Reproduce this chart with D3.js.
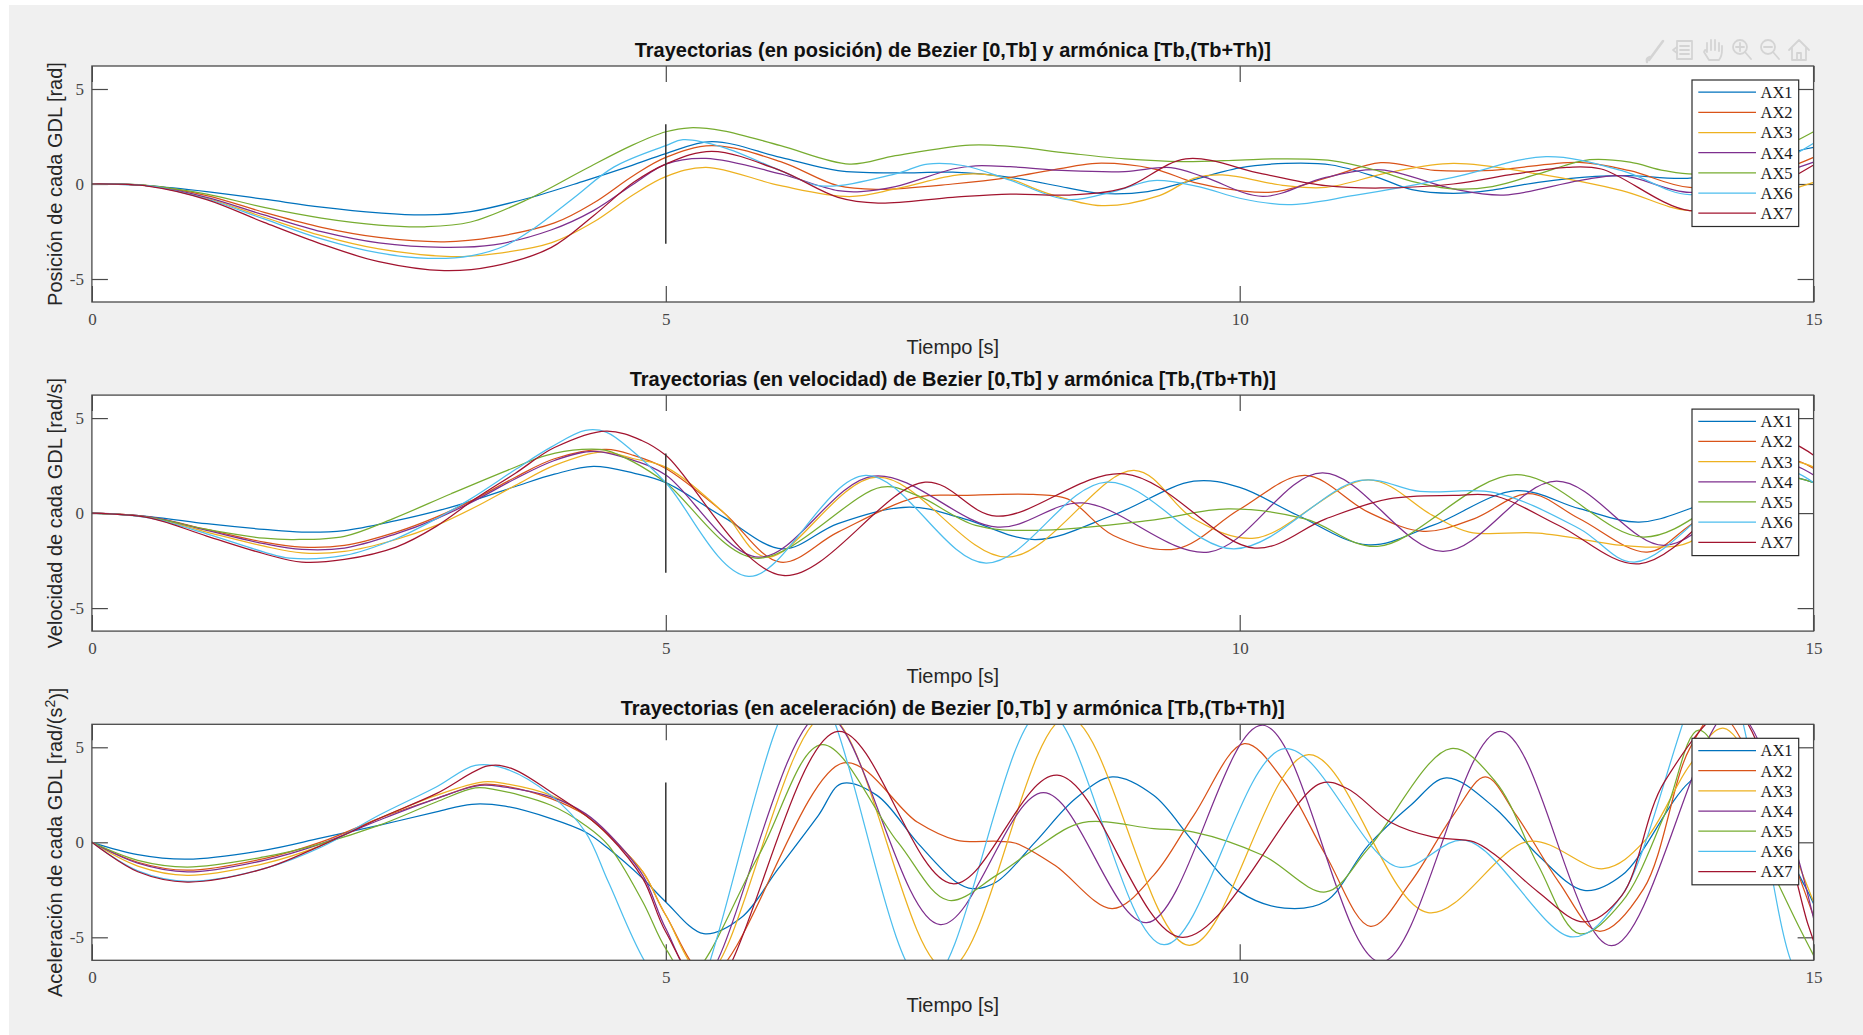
<!DOCTYPE html>
<html>
<head>
<meta charset="utf-8">
<script src="https://cdn.jsdelivr.net/npm/d3@7"></script>
<style>
  html, body { margin: 0; padding: 0; background: #ffffff; }
  svg { display: block; }
</style>
</head>
<body>
<svg id="fig" width="1863" height="1035"></svg>
<script>
// ---------- series / axes definitions ----------
const seriesNames  = ["AX1", "AX2", "AX3", "AX4", "AX5", "AX6", "AX7"];
const seriesColors = ["#0072BD", "#D95319", "#EDB120", "#7E2F8E", "#77AC30", "#4DBEEE", "#A2142F"];
const xTicks = [0, 5, 10, 15];
const yTicks = [-5, 0, 5];
const xDomain = [0, 15];
const yDomain = [-6.21, 6.21];
const panelTitles = [
  "Trayectorias (en posición) de Bezier [0,Tb] y armónica [Tb,(Tb+Th)]",
  "Trayectorias (en velocidad) de Bezier [0,Tb] y armónica [Tb,(Tb+Th)]",
  "Trayectorias (en aceleración) de Bezier [0,Tb] y armónica [Tb,(Tb+Th)]"
];
const xLabel = "Tiempo [s]";
const yLabels = [
  ["Posición de cada GDL [rad]"],
  ["Velocidad de cada GDL [rad/s]"],
  ["Aceleración de cada GDL [rad/(s", "2", ")]"]
];
// boundary between the Bezier part and the harmonic part: t = Tb, drawn from -pi to pi
const tbMarker = [[5, -Math.PI], [5, Math.PI]];

// ---------- joint positions [t, rad] ----------
const posAX1 = [[0,0],[0.5,-0.1],[1,-0.4],[1.5,-0.8],[2,-1.22],[2.5,-1.52],[2.9,-1.63],[3.3,-1.45],[3.8,-0.75],[4.3,0.18],[4.7,0.97],[5,1.6],[5.4,2.23],[6,1.4],[6.5,0.7],[7,0.58],[7.5,0.62],[8,0.35],[8.5,-0.2],[8.8,-0.5],[9.2,-0.4],[9.5,0.05],[10,0.85],[10.4,1.08],[10.8,1.0],[11.2,0.35],[11.5,-0.3],[11.86,-0.49],[12.2,-0.32],[12.6,0.09],[13.1,0.4],[13.4,0.44],[13.9,0.3],[14.5,0.9],[14.87,1.75],[15,1.93]];
const posAX2 = [[0,0],[0.5,-0.1],[1,-0.61],[1.5,-1.49],[2,-2.28],[2.5,-2.81],[3.07,-3.04],[3.5,-2.8],[4.03,-2.05],[4.37,-1.0],[4.72,0.45],[5,1.4],[5.4,2.02],[6,1.18],[6.5,-0.09],[6.85,-0.28],[7.5,0.0],[8,0.35],[8.5,0.88],[8.75,1.09],[9.25,0.8],[9.6,0.09],[10,-0.35],[10.3,-0.42],[10.8,0.4],[11.23,1.12],[11.7,0.72],[12.2,0.72],[12.96,1.14],[13.4,0.7],[13.92,-0.18],[14.5,0.3],[15,1.4]];
const posAX3 = [[0,0],[0.5,-0.1],[1,-0.75],[1.5,-1.75],[2,-2.72],[2.5,-3.42],[3.13,-3.82],[3.5,-3.68],[4,-3.1],[4.37,-2.0],[4.72,-0.55],[5,0.39],[5.35,0.88],[6,-0.09],[6.6,-0.66],[7,-0.26],[7.5,0.44],[7.7,0.53],[8,0.26],[8.3,-0.44],[8.8,-1.14],[9.3,-0.61],[9.6,0.3],[9.85,0.48],[10.4,-0.09],[10.75,-0.18],[11.3,0.6],[11.86,1.09],[12.6,0.53],[13.33,-0.35],[13.92,-1.4],[14.5,-0.8],[15,0.09]];
const posAX4 = [[0,0],[0.5,-0.1],[1,-0.7],[1.5,-1.63],[2,-2.51],[2.5,-3.1],[3.07,-3.33],[3.5,-3.2],[4,-2.42],[4.37,-1.4],[4.72,0],[5,1.05],[5.35,1.35],[6,0.53],[6.5,-0.35],[6.7,-0.4],[7,-0.14],[7.5,0.79],[7.7,0.96],[8,0.91],[8.5,0.7],[9,0.65],[9.4,0.86],[9.7,0.35],[10.2,-0.65],[10.75,0.35],[11.23,0.74],[11.86,-0.26],[12.3,-0.58],[12.96,0.18],[13.33,0.44],[13.92,-0.44],[14.5,0.2],[15,1.15]];
const posAX5 = [[0,0],[0.5,-0.08],[1,-0.53],[1.5,-1.23],[2,-1.79],[2.5,-2.16],[2.9,-2.25],[3.3,-2.0],[3.8,-0.8],[4.3,0.79],[4.7,2.02],[5,2.75],[5.21,2.96],[5.5,2.8],[6,2.02],[6.6,1.05],[7,1.49],[7.65,2.05],[8,1.98],[8.5,1.63],[9,1.32],[9.5,1.18],[10,1.26],[10.31,1.32],[10.8,1.23],[11.2,0.7],[11.5,0.14],[11.86,-0.26],[12.2,-0.14],[12.6,0.53],[13.05,1.28],[13.4,1.15],[13.7,0.7],[14.0,0.53],[14.5,1.3],[15,2.75]];
const posAX6 = [[0,0],[0.5,-0.1],[1,-0.79],[1.5,-1.84],[2,-2.89],[2.5,-3.63],[2.93,-3.91],[3.3,-3.78],[3.6,-3.25],[3.86,-2.3],[4.2,-0.72],[4.55,0.9],[5,2.02],[5.15,2.33],[5.5,1.93],[6,0.7],[6.35,-0.1],[7,0.53],[7.28,1.05],[7.6,0.96],[8,0.2],[8.5,-0.82],[8.9,-0.4],[9.25,0.18],[9.65,-0.15],[10,-0.75],[10.42,-1.09],[11,-0.6],[11.86,0.35],[12.67,1.44],[13.33,0.7],[13.92,-0.56],[14.5,0.5],[15,2.14]];
const posAX7 = [[0,0],[0.5,-0.12],[1,-0.82],[1.5,-2.02],[2,-3.16],[2.5,-4.09],[3.07,-4.56],[3.5,-4.32],[4,-3.35],[4.37,-1.67],[4.72,0.09],[5,1.05],[5.4,1.72],[6,0.7],[6.5,-0.7],[6.85,-1.0],[7.5,-0.7],[8,-0.53],[8.5,-0.58],[9,-0.2],[9.53,1.32],[10.2,0.53],[10.75,-0.09],[11.23,-0.21],[11.86,0.0],[12.4,0.53],[12.85,0.88],[13.15,0.79],[13.92,-1.4],[14.5,-0.6],[15,1.0]];

// ---------- joint velocities [t, rad/s] ----------
const velAX1 = [[0,0],[0.5,-0.18],[1,-0.56],[1.5,-0.86],[1.83,-1.0],[2.2,-0.92],[2.65,-0.4],[3.0,0.1],[3.34,0.7],[3.69,1.4],[4.03,2.05],[4.37,2.46],[4.72,2.1],[5,1.6],[5.5,-0.2],[6.02,-1.88],[6.5,-0.55],[7.12,0.32],[7.6,-0.3],[8.22,-1.39],[8.9,-0.1],[9.6,1.68],[10,1.35],[10.5,-0.1],[11.12,-1.67],[11.68,-0.65],[12.41,1.18],[12.96,0.23],[13.48,-0.47],[13.92,0.23],[14.5,1.8],[14.8,1.9],[15,1.6]];
const velAX2 = [[0,0],[0.5,-0.2],[1,-0.86],[1.5,-1.53],[1.83,-1.79],[2.2,-1.7],[2.65,-1.0],[3.0,-0.21],[3.34,0.75],[3.69,1.89],[4.03,2.86],[4.48,3.35],[4.72,3.04],[5,2.35],[5.5,0.05],[6.0,-2.58],[6.5,-1.0],[7.19,0.84],[7.6,0.93],[8.2,0.98],[8.5,0.75],[8.9,-1.18],[9.45,-1.88],[10,0.2],[10.57,1.98],[11.12,0.05],[11.6,-0.96],[12.04,-0.3],[12.52,1.02],[12.96,-0.3],[13.55,-2.05],[13.92,-0.65],[14.5,2.0],[14.8,2.8],[15,2.35]];
const velAX3 = [[0,0],[0.5,-0.22],[1,-1.0],[1.5,-1.74],[1.83,-2.09],[2.2,-2.02],[2.65,-1.39],[3.0,-0.65],[3.34,0.32],[3.69,1.46],[4.03,2.51],[4.44,3.21],[4.72,2.86],[5,2.42],[5.5,0.05],[5.88,-2.32],[6.84,1.89],[7.98,-2.32],[9.08,2.25],[9.6,-0.3],[10.13,-1.32],[11.12,1.75],[11.68,-0.12],[12.0,-1.0],[12.6,-1.05],[13.33,-1.7],[13.63,-1.79],[13.92,-1.53],[14.5,1.5],[14.8,2.7],[15,2.42]];
const velAX4 = [[0,0],[0.5,-0.2],[1,-0.91],[1.5,-1.61],[1.83,-1.91],[2.2,-1.84],[2.65,-1.09],[3.0,-0.3],[3.34,0.67],[3.69,1.81],[4.03,2.77],[4.37,3.25],[4.72,2.77],[5,2.0],[5.81,-2.32],[6.81,1.95],[7.89,-0.74],[8.63,0.54],[9.73,-2.05],[10.72,2.12],[11.77,-2.02],[12.76,1.68],[13.7,-1.7],[14.4,1.2],[14.75,2.6],[15,2.0]];
const velAX5 = [[0,0],[0.5,-0.22],[1,-0.86],[1.5,-1.32],[1.76,-1.39],[2.2,-1.22],[2.62,-0.3],[3.13,1.02],[3.62,2.25],[3.96,3.04],[4.27,3.35],[4.48,3.3],[4.72,2.68],[5,1.6],[5.78,-2.37],[6.88,1.37],[7.19,0.93],[7.7,-0.65],[8.22,-0.91],[9.2,-0.4],[9.9,0.22],[10.57,-0.3],[11.2,-1.75],[12.41,2.02],[13.52,-1.26],[14.3,1.0],[14.75,1.9],[15,1.6]];
const velAX6 = [[0,0],[0.5,-0.25],[1,-1.09],[1.5,-2.05],[1.72,-2.37],[2.2,-2.23],[2.65,-1.35],[3.0,-0.3],[3.3,0.75],[3.7,2.33],[4.0,3.47],[4.3,4.35],[4.48,4.26],[4.72,3.21],[5,1.6],[5.72,-3.33],[6.74,1.98],[7.79,-2.63],[8.84,1.63],[9.95,-1.88],[11.05,1.72],[11.57,1.14],[12.23,1.07],[12.96,-0.82],[13.44,-2.58],[14.3,1.2],[14.75,2.3],[15,1.6]];
const velAX7 = [[0,0],[0.5,-0.25],[1,-1.21],[1.5,-2.14],[1.83,-2.58],[2.2,-2.44],[2.65,-1.79],[3.0,-0.7],[3.34,0.75],[3.69,2.1],[4.03,3.45],[4.48,4.32],[4.79,3.82],[5,3.04],[6.02,-3.28],[7.26,1.63],[7.88,-0.16],[9.0,2.07],[10.13,-1.84],[10.75,-0.3],[11.3,0.75],[11.86,0.93],[12.23,0.9],[12.78,-0.65],[13.48,-2.67],[14.2,0.5],[14.7,3.8],[15,3.04]];

// ---------- joint accelerations [t, rad/s^2] ----------
const accAX1 = [[0,0],[0.4,-0.65],[0.83,-0.89],[1.5,-0.42],[2.0,0.23],[2.5,0.89],[3.0,1.6],[3.31,2.0],[3.6,1.9],[4.0,1.25],[4.3,0.54],[4.5,-0.33],[4.8,-1.91],[5.0,-3.14],[5.33,-4.81],[5.65,-4.0],[5.98,-1.39],[6.33,1.42],[6.53,3.09],[6.84,2.47],[7.19,0.0],[7.53,-2.09],[7.67,-2.44],[7.88,-2.09],[8.22,0.02],[8.57,2.3],[8.89,3.44],[9.25,2.47],[9.6,0.0],[10.0,-2.61],[10.39,-3.46],[10.75,-3.1],[11.12,-0.16],[11.49,1.95],[11.8,3.39],[12.23,1.77],[12.6,-0.68],[13.0,-2.53],[13.33,-1.74],[13.92,3.18],[14.25,4.2],[14.92,-2.26],[15,-3.23]];
const accAX2 = [[0,0],[0.4,-1.05],[0.83,-1.47],[1.5,-0.86],[2.0,0.02],[2.5,1.25],[3.0,2.3],[3.38,3.04],[3.6,2.96],[4.0,2.3],[4.3,1.42],[4.5,0.37],[4.8,-1.56],[5.0,-3.84],[5.38,-7.0],[6.55,4.18],[7.19,1.07],[7.53,0.12],[7.9,0.05],[8.05,-0.05],[8.39,-1.21],[8.89,-3.49],[9.25,-1.74],[9.6,1.42],[10.04,5.19],[10.39,3.18],[10.75,-0.68],[11.14,-4.42],[11.49,-2.09],[11.86,1.42],[12.14,3.44],[12.41,1.42],[12.78,-2.09],[13.13,-4.68],[13.52,-2.44],[13.92,4.93],[14.18,6.8],[15,-3.9]];
const accAX3 = [[0,0],[0.4,-1.25],[0.83,-1.74],[1.5,-1.12],[2.0,-0.16],[2.5,1.25],[3.0,2.47],[3.41,3.18],[3.6,3.09],[4.0,2.47],[4.3,1.42],[4.5,0.37],[4.8,-1.56],[5.0,-3.84],[5.35,-7.0],[6.4,6.7],[7.45,-6.7],[8.5,6.6],[9.56,-5.42],[10.6,4.61],[11.64,-3.7],[12.52,0.05],[13.17,-1.39],[13.52,0.02],[13.92,4.05],[14.22,6.0],[15,-3.14]];
const accAX4 = [[0,0],[0.4,-1.1],[0.83,-1.56],[1.5,-0.95],[2.0,-0.07],[2.5,1.16],[3.0,2.3],[3.38,3.0],[3.6,2.9],[4.0,2.39],[4.3,1.51],[4.5,0.46],[4.8,-1.74],[5.0,-4.54],[5.3,-7.4],[6.37,6.8],[7.39,-4.33],[8.29,2.61],[9.19,-4.23],[10.2,6.16],[11.23,-6.3],[12.27,5.84],[13.24,-5.44],[14.3,7.0],[15,-4.0]];
const accAX5 = [[0,0],[0.4,-0.95],[0.83,-1.3],[1.5,-0.77],[2.0,-0.07],[2.5,0.89],[3.0,2.12],[3.34,2.86],[3.5,2.79],[4.0,1.95],[4.3,0.89],[4.5,-0.16],[4.8,-3.14],[5.0,-5.6],[5.2,-7.0],[5.81,-0.68],[6.36,5.14],[7.02,0.02],[7.46,-3.05],[7.88,-1.74],[8.22,-0.33],[8.63,1.04],[9.25,0.72],[9.6,0.54],[10.2,-0.68],[10.75,-2.61],[11.12,-0.33],[11.84,4.93],[12.23,3.18],[12.6,-1.21],[12.96,-4.81],[13.33,-3.14],[13.7,1.42],[14.0,5.9],[14.45,0.8],[14.88,-4.54],[15,-5.95]];
const accAX6 = [[0,0],[0.4,-1.5],[0.83,-2.05],[1.5,-1.39],[2.0,-0.25],[2.5,1.42],[3.0,2.91],[3.34,4.05],[3.6,3.88],[4.0,2.47],[4.3,0.54],[4.5,-2.09],[4.82,-6.3],[5.15,-9.0],[6.23,8.5],[7.27,-7.5],[8.3,7.0],[9.34,-5.39],[10.39,4.93],[11.38,-1.3],[11.97,0.1],[12.9,-4.98],[13.33,-2.79],[14.15,9.5],[14.8,-6.2],[15,-8.6]];
const accAX7 = [[0,0],[0.4,-1.55],[0.83,-2.09],[1.5,-1.39],[2.0,-0.16],[2.5,1.25],[3.0,2.56],[3.45,4.02],[3.65,3.9],[4.0,2.65],[4.3,1.42],[4.5,0.37],[4.8,-1.91],[5.0,-4.72],[5.38,-7.8],[6.5,5.84],[7.5,-2.18],[8.41,3.53],[9.5,-5.0],[10.7,3.09],[10.94,2.82],[11.31,1.07],[11.68,0.28],[12.04,0.02],[12.23,-0.68],[12.6,-2.61],[13.0,-4.19],[13.33,-2.79],[13.7,3.18],[14.3,7.0],[14.95,-4.3],[15,-5.2]];

const panelSeries = [
  [posAX1, posAX2, posAX3, posAX4, posAX5, posAX6, posAX7],
  [velAX1, velAX2, velAX3, velAX4, velAX5, velAX6, velAX7],
  [accAX1, accAX2, accAX3, accAX4, accAX5, accAX6, accAX7]
];

// ---------- layout ----------
const W = 1863, H = 1035;
const plotLeft = 91.9, plotRight = 1813.6;
const panelTops = [66, 395.1, 724.3];
const panelHeight = 236;
const tickLen = 16;
const axisColor = "#4a4a4a";
const sansFont = "'Liberation Sans', Arial, Helvetica, sans-serif";
const serifFont = "'Liberation Serif', 'Times New Roman', serif";

const svg = d3.select("#fig");

// figure background
svg.append("rect").attr("width", W).attr("height", H).attr("fill", "#ffffff");
svg.append("rect").attr("x", 9).attr("y", 5).attr("width", W - 9).attr("height", H - 5).attr("fill", "#f0f0f0");

const x = d3.scaleLinear().domain(xDomain).range([plotLeft, plotRight]);

panelSeries.forEach((seriesList, p) => {
  const top = panelTops[p];
  const bottom = top + panelHeight;
  const y = d3.scaleLinear().domain(yDomain).range([bottom, top]);
  const g = svg.append("g").attr("class", "panel");

  // plot area
  g.append("rect")
    .attr("x", plotLeft).attr("y", top)
    .attr("width", plotRight - plotLeft).attr("height", panelHeight)
    .attr("fill", "#ffffff");

  const clipId = "clip" + p;
  svg.append("clipPath").attr("id", clipId)
    .append("rect")
    .attr("x", plotLeft).attr("y", top)
    .attr("width", plotRight - plotLeft).attr("height", panelHeight);

  // ticks on all four sides, pointing inwards
  const axB = g.append("g").attr("transform", `translate(0,${bottom})`)
    .call(d3.axisBottom(x).tickValues(xTicks).tickSizeInner(-tickLen).tickSizeOuter(0).tickPadding(10.5)
      .tickFormat(d3.format("d")));
  const axT = g.append("g").attr("transform", `translate(0,${top})`)
    .call(d3.axisTop(x).tickValues(xTicks).tickSizeInner(-tickLen).tickSizeOuter(0).tickFormat(() => ""));
  const axL = g.append("g").attr("transform", `translate(${plotLeft},0)`)
    .call(d3.axisLeft(y).tickValues(yTicks).tickSizeInner(-tickLen).tickSizeOuter(0).tickPadding(8)
      .tickFormat(d => d < 0 ? "-" + Math.abs(d) : String(d)));
  const axR = g.append("g").attr("transform", `translate(${plotRight},0)`)
    .call(d3.axisRight(y).tickValues(yTicks).tickSizeInner(-tickLen).tickSizeOuter(0).tickFormat(() => ""));

  [axB, axT, axL, axR].forEach(a => {
    a.select(".domain").remove();
    a.selectAll(".tick line").attr("stroke", axisColor).attr("stroke-width", 1.2);
    a.selectAll(".tick text")
      .attr("fill", "#474747")
      .style("font-family", serifFont)
      .style("font-size", "17px");
  });

  // curves (smooth interpolation through the sampled points)
  const line = d3.line().x(d => x(d[0])).y(d => y(d[1])).curve(d3.curveCatmullRom.alpha(0.5));
  const curves = g.append("g").attr("clip-path", `url(#${clipId})`);
  seriesList.forEach((data, i) => {
    curves.append("path")
      .attr("d", line(data))
      .attr("fill", "none")
      .attr("stroke", seriesColors[i])
      .attr("stroke-width", 1.25)
      .attr("stroke-linejoin", "round");
  });

  // Tb marker
  curves.append("path")
    .attr("d", d3.line().x(d => x(d[0])).y(d => y(d[1]))(tbMarker))
    .attr("stroke", "#333333")
    .attr("stroke-width", 1.5)
    .attr("fill", "none");

  // axes box
  g.append("rect")
    .attr("x", plotLeft).attr("y", top)
    .attr("width", plotRight - plotLeft).attr("height", panelHeight)
    .attr("fill", "none").attr("stroke", axisColor).attr("stroke-width", 1.3);

  // title
  g.append("text")
    .attr("x", (plotLeft + plotRight) / 2).attr("y", top - 9)
    .attr("text-anchor", "middle")
    .style("font-family", sansFont).style("font-size", "20px").style("font-weight", "bold")
    .attr("fill", "#111111")
    .text(panelTitles[p]);

  // x label
  g.append("text")
    .attr("x", (plotLeft + plotRight) / 2).attr("y", bottom + 52)
    .attr("text-anchor", "middle")
    .style("font-family", sansFont).style("font-size", "20px")
    .attr("fill", "#262626")
    .text(xLabel);

  // y label (rotated)
  const yl = g.append("text")
    .attr("transform", `translate(61.5,${(top + bottom) / 2}) rotate(-90)`)
    .attr("text-anchor", "middle")
    .style("font-family", sansFont).style("font-size", "20px")
    .attr("fill", "#262626");
  const parts = yLabels[p];
  yl.append("tspan").text(parts[0]);
  if (parts.length > 1) {
    yl.append("tspan").attr("dy", "-0.45em").style("font-size", "14px").text(parts[1]);
    yl.append("tspan").attr("dy", "0.45em").text(parts[2]);
  }

  // legend
  const lgX = 1692, lgW = 106.7, lgTop = top + 14, lgH = 146.5;
  const lg = g.append("g").attr("class", "legend");
  lg.append("rect")
    .attr("x", lgX).attr("y", lgTop).attr("width", lgW).attr("height", lgH)
    .attr("fill", "#ffffff").attr("stroke", "#2b2b2b").attr("stroke-width", 1.2);
  seriesNames.forEach((name, i) => {
    const cy = lgTop + 12.2 + 20.17 * i;
    lg.append("line")
      .attr("x1", lgX + 6.3).attr("x2", lgX + 64)
      .attr("y1", cy).attr("y2", cy)
      .attr("stroke", seriesColors[i]).attr("stroke-width", 1.25);
    lg.append("text")
      .attr("x", lgX + 68.5).attr("y", cy).attr("dy", "0.36em")
      .style("font-family", serifFont).style("font-size", "16.5px")
      .attr("fill", "#1a1a1a")
      .text(name);
  });
});

// figure toolbar (faint icons, top right)
const tb = svg.append("g").attr("fill", "none").attr("stroke", "#d4d4d4").attr("stroke-width", 1.8)
  .attr("stroke-linecap", "round").attr("stroke-linejoin", "round");
// brush
tb.append("path").attr("d", "M1649,60 L1663,41").attr("stroke-width", 2.6);
tb.append("path").attr("d", "M1647,62 Q1646,58 1650,57").attr("stroke-width", 2.4);
// data tip
tb.append("path").attr("d", "M1677,41 H1692 V59 H1677 Z");
tb.append("path").attr("d", "M1680,46 H1689 M1680,50 H1689 M1680,54 H1689");
tb.append("path").attr("d", "M1677,47 L1673,50 L1677,53");
// pan (hand)
tb.append("path").attr("d", "M1707,52 V43 M1711,50 V40 M1715,50 V40 M1719,51 V43 M1707,52 Q1705,48 1704,52 L1709,60 H1719 Q1722,56 1722,50 V46");
// zoom in
tb.append("circle").attr("cx", 1740).attr("cy", 47).attr("r", 7);
tb.append("path").attr("d", "M1745,52 L1751,59 M1736,47 H1744 M1740,43 V51");
// zoom out
tb.append("circle").attr("cx", 1768).attr("cy", 47).attr("r", 7);
tb.append("path").attr("d", "M1773,52 L1779,59 M1764,47 H1772");
// home
tb.append("path").attr("d", "M1789,50 L1799,40 L1809,50 M1792,47 V60 H1806 V47 M1797,60 V53 H1801 V60");
</script>
</body>
</html>
